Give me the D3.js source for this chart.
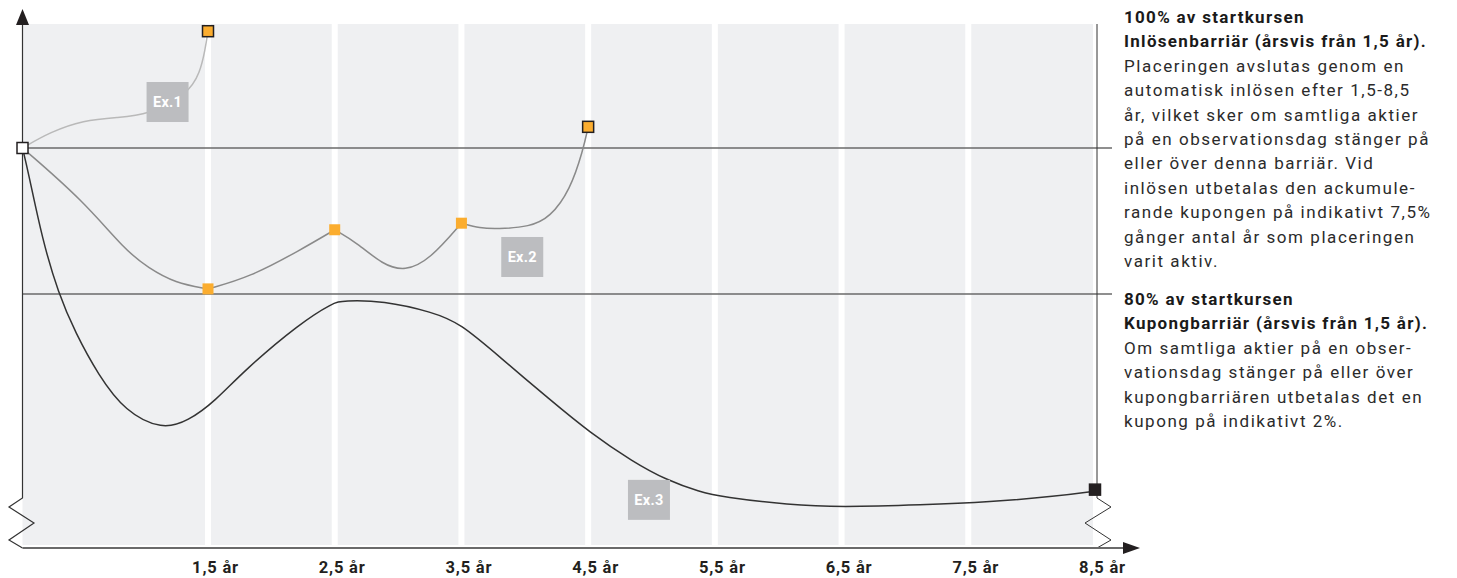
<!DOCTYPE html>
<html>
<head>
<meta charset="utf-8">
<script src="https://cdn.jsdelivr.net/npm/d3@7"></script>
<style>
  body { margin: 0; background: #fff; }
  svg { display: block; font-family: Roboto, 'Noto Sans', sans-serif; }
</style>
</head>
<body>
<svg id="chart" width="1457" height="578"></svg>
<script>
/* observation dates (years) and their labels */
const tickYears = [1.5, 2.5, 3.5, 4.5, 5.5, 6.5, 7.5, 8.5]
const tickLabels = ['1,5 år', '2,5 år', '3,5 år', '4,5 år', '5,5 år', '6,5 år', '7,5 år', '8,5 år']

/* barrier levels, % of start price */
const barriers = [100, 80]

/* example paths: [year, % of start price] */
const ex1 = [[0, 100], [0.226, 102.2], [0.49, 103.8], [0.77, 104.2], [1.01, 104.5], [1.34, 107.4], [1.435, 110.3], [1.476, 113.4], [1.5, 116.0]]
const ex2 = [[0, 100], [0.484, 92.9], [0.83, 86.0], [1.016, 83.6], [1.234, 81.5], [1.5, 80.7],
  [1.83, 82.3], [2.226, 86.0], [2.5, 88.8],
  [2.676, 87.0], [2.88, 84.0], [3.055, 83.1], [3.25, 84.7], [3.5, 89.7],
  [3.647, 89.0], [3.78, 88.9], [4.04, 89.2], [4.2, 90.5], [4.357, 94.2], [4.46, 99.7], [4.5, 102.9]]
const ex3 = [[0, 100], [0.048, 96.6], [0.161, 87.4], [0.29, 80.1], [0.427, 74.7], [0.613, 68.9], [0.83, 63.9],
  [1.13, 61.4], [1.34, 62.6], [1.555, 65.3], [1.79, 69.6], [2.226, 76.0], [2.487, 78.8], [2.566, 79.1],
  [2.88, 79.1], [3.276, 77.5], [3.49, 76.0], [3.8, 71.4], [4.2, 65.5], [4.515, 61.0], [4.854, 57.0],
  [5.12, 54.5], [5.38, 52.9], [5.56, 52.2], [6.09, 51.1], [6.49, 50.8], [7.14, 51.1], [7.67, 51.5],
  [8.2, 52.3], [8.5, 53.0]]

/* observation markers: [year, value, final?] */
const ex1Markers = [[1.5, 116.0, true]]
const ex2Markers = [[1.5, 80.7, false], [2.5, 88.8, false], [3.5, 89.7, false], [4.5, 102.9, true]]
const ex3Markers = [[8.5, 53.2, true]]
const startPoint = [0, 100]

/* example tags: [label, year, value] */
const exTags = [['Ex.1', 1.173, 106.3], ['Ex.2', 3.98, 85.07], ['Ex.3', 4.98, 51.8]]

/* legend texts */
const legend1Bold = ['100% av startkursen', 'Inlösenbarriär (årsvis från 1,5 år).']
const legend1Text = ['Placeringen avslutas genom en', 'automatisk inlösen efter 1,5-8,5',
  'år, vilket sker om samtliga aktier', 'på en observationsdag stänger på',
  'eller över denna barriär. Vid', 'inlösen utbetalas den ackumule-',
  'rande kupongen på indikativt 7,5%', 'gånger antal år som placeringen', 'varit aktiv.']
const legend2Bold = ['80% av startkursen', 'Kupongbarriär (årsvis från 1,5 år).']
const legend2Text = ['Om samtliga aktier på en obser-', 'vationsdag stänger på eller över',
  'kupongbarriären utbetalas det en', 'kupong på indikativt 2%.']

/* layout */
const axisX = 22.5
const axisY = 548
const plotTop = 24
const plotRight = 1093
const rightAxisX = 1097
const lineEnd = 1112
const legendX = 1124

/* scales */
const xScale = d3.scaleLinear().domain([0, 1.5, 8.5]).range([axisX, 208, 1095])
const yScale = d3.scaleLinear().domain([80, 100]).range([294, 148])

const svg = d3.select('#chart')

/* plot background and white bands at observation dates */
svg.append('rect')
  .attr('x', axisX).attr('y', plotTop)
  .attr('width', plotRight - axisX).attr('height', axisY - 3 - plotTop)
  .attr('fill', '#eff0f2')

svg.append('g').selectAll('rect')
  .data(tickYears.slice(0, -1))
  .join('rect')
  .attr('x', (d) => xScale(d) - 3)
  .attr('y', plotTop)
  .attr('width', 6)
  .attr('height', axisY - 3 - plotTop)
  .attr('fill', '#fff')

/* barrier lines */
svg.append('g').selectAll('line')
  .data(barriers)
  .join('line')
  .attr('x1', axisX).attr('x2', lineEnd)
  .attr('y1', (d) => yScale(d)).attr('y2', (d) => yScale(d))
  .attr('stroke', '#6a6a6a')
  .attr('stroke-width', 1.5)

/* fn: split a path at cusp markers so each piece is its own smooth curve */
function splitAt(points, cuts) {
  const pieces = []
  let cur = []
  points.forEach((p) => {
    cur.push(p)
    if (cuts.includes(p[0]) && cur.length > 1) {
      pieces.push(cur)
      cur = [p]
    }
  })
  if (cur.length > 1) pieces.push(cur)
  return pieces
}

const line = d3.line()
  .x((d) => xScale(d[0]))
  .y((d) => yScale(d[1]))
  .curve(d3.curveBasis)

const series = [
  { pts: ex1, cuts: [], color: '#b9b9b9' },
  { pts: ex2, cuts: [1.5, 2.5, 3.5], color: '#8a8a8a' },
  { pts: ex3, cuts: [], color: '#333333' }
]

series.forEach((s) => {
  svg.append('g').selectAll('path')
    .data(splitAt(s.pts, s.cuts))
    .join('path')
    .attr('d', line)
    .attr('fill', 'none')
    .attr('stroke', s.color)
    .attr('stroke-width', 1.5)
})

/* example tags */
const tags = svg.append('g').selectAll('g')
  .data(exTags)
  .join('g')
  .attr('transform', (d) => `translate(${xScale(d[1])},${yScale(d[2])})`)

tags.append('rect')
  .attr('x', -21).attr('y', -20)
  .attr('width', 42).attr('height', 40)
  .attr('fill', '#bcbdc0')

tags.append('text')
  .attr('text-anchor', 'middle')
  .attr('dy', '0.36em')
  .attr('fill', '#fff')
  .style('font-size', '14.5px')
  .style('font-weight', 'bold')
  .style('letter-spacing', '0.3px')
  .text((d) => d[0])

/* axes */
const axes = svg.append('g')
  .attr('fill', 'none')

axes.append('path')
  .attr('d', `M${axisX},${plotTop} V498 L9,507 L34,523 L9,540 L${axisX},${axisY}`)
  .attr('stroke', '#333').attr('stroke-width', 1.2)
axes.append('path')
  .attr('d', `M${rightAxisX},${plotTop} V498 L1111,507 L1085,523 L1111,540 L${rightAxisX},${axisY}`)
  .attr('stroke', '#333').attr('stroke-width', 1)
axes.append('line')
  .attr('x1', axisX).attr('x2', 1126)
  .attr('y1', axisY).attr('y2', axisY)
  .attr('stroke', '#6a6a6a').attr('stroke-width', 2)

/* arrow heads */
svg.append('path')
  .attr('d', `M${axisX},9 L${axisX + 6.5},25 L${axisX - 6.5},25 Z`)
  .attr('fill', '#231f20')
svg.append('path')
  .attr('d', `M1140,${axisY} L1123,${axisY - 6} L1123,${axisY + 6} Z`)
  .attr('fill', '#231f20')

/* x tick labels */
const xAxis = d3.axisBottom(xScale)
  .tickValues(tickYears)
  .tickFormat((d, i) => tickLabels[i])
  .tickSize(0)

const xg = svg.append('g')
  .attr('transform', `translate(0,${axisY})`)
  .call(xAxis)
xg.select('.domain').remove()
xg.selectAll('text')
  .attr('x', 7)
  .attr('y', 25)
  .attr('dy', 0)
  .attr('fill', '#231f20')
  .style('font-family', 'Roboto, sans-serif')
  .style('font-size', '16.5px')
  .style('font-weight', 'bold')
  .style('letter-spacing', '0.8px')

/* markers */
const markers = [
  ...ex1Markers, ...ex2Markers
].map((d) => ({ t: d[0], v: d[1], final: d[2], fill: '#fbad2f' }))
markers.push(...ex3Markers.map((d) => ({ t: d[0], v: d[1], final: d[2], fill: '#231f20' })))
markers.push({ t: startPoint[0], v: startPoint[1], final: true, fill: '#fff' })

svg.append('g').selectAll('rect')
  .data(markers)
  .join('rect')
  .attr('x', (d) => xScale(d.t) - 5.5)
  .attr('y', (d) => yScale(d.v) - 5.5)
  .attr('width', 11)
  .attr('height', 11)
  .attr('fill', (d) => d.fill)
  .attr('stroke', (d) => (d.final ? '#231f20' : 'none'))
  .attr('stroke-width', 1.5)

/* legend blocks */
function legendBlock(boldLines, textLines, baseline) {
  const g = svg.append('g')
    .attr('transform', `translate(${legendX},${baseline})`)
  const lines = boldLines.map((t) => ({ t, b: true }))
    .concat(textLines.map((t) => ({ t, b: false })))
  g.selectAll('text')
    .data(lines)
    .join('text')
    .attr('y', (d, i) => i * 24.4)
    .attr('fill', (d) => (d.b ? '#1a1a1a' : '#2b2b2b'))
    .style('font-size', '17px')
    .style('font-weight', (d) => (d.b ? 'bold' : 'normal'))
    .style('letter-spacing', (d) => (d.b ? '1.3px' : '1.55px'))
    .text((d) => d.t)
}

legendBlock(legend1Bold, legend1Text, 23)
legendBlock(legend2Bold, legend2Text, 305)
</script>
</body>
</html>
